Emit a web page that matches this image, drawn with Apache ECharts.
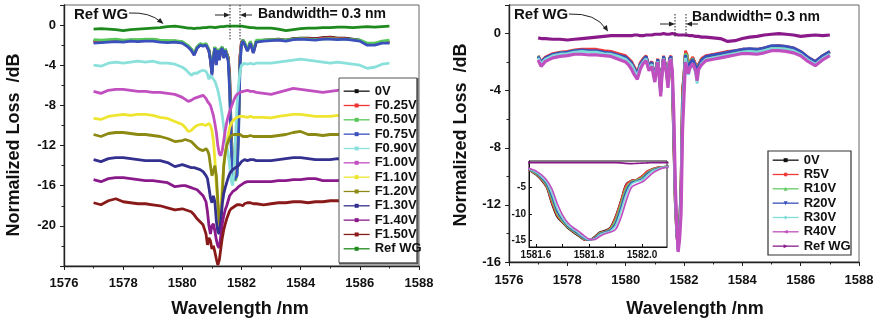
<!DOCTYPE html>
<html><head><meta charset="utf-8">
<script src="https://cdn.jsdelivr.net/npm/echarts@6/dist/echarts.min.js"></script>
<style>html,body{margin:0;padding:0;background:#fff}#c{width:878px;height:326px}</style>
</head><body><div id="c"></div>
<script>
// ---------------- DATA ----------------
// Left panel wavelength grid (nm)
const wlL = [1577,1577.25,1577.5,1577.75,1578,1578.25,1578.5,1578.75,1579,1579.25,1579.5,1579.75,1580,
 1580.1,1580.2,1580.3,1580.4,1580.5,1580.6,1580.7,1580.8,
 1580.85,1580.9,1580.95,1581,1581.05,1581.1,1581.15,1581.2,1581.25,1581.3,1581.35,1581.4,1581.45,1581.5,1581.55,1581.6,1581.65,1581.7,1581.75,1581.8,1581.85,1581.9,1581.95,1582,1582.05,1582.1,
 1582.2,1582.3,1582.4,1582.5,
 1582.75,1583,1583.25,1583.5,1583.75,1584,1584.25,1584.5,1584.75,1585,1585.25,1585.5,1585.75,1586,1586.25,1586.5,1586.75,1587];

const L_0V = [-1.6,-1.6,-1.55,-1.5,-1.6,-1.5,-1.5,-1.45,-1.45,-1.55,-1.6,-1.6,-1.7,
 -1.9,-2.1,-2.4,-2.9,-2.2,-1.9,-2.0,-1.9,
 -2.2,-2.5,-3.4,-4.7,-3.2,-2.2,-3.8,-2.4,-3.4,-2.4,-2.2,-3.2,-2.4,-2.5,-3.2,-5.0,-10.5,-13.8,-14.8,-15.0,-14.2,-9.5,-3.2,-1.7,-1.5,-1.8,
 -2.5,-1.7,-2.7,-1.6,
 -1.5,-1.45,-1.4,-1.5,-1.35,-1.3,-1.3,-1.35,-1.25,-1.2,-1.3,-1.3,-1.4,-1.5,-1.9,-1.9,-1.7,-1.7];
const L_F025 = [-1.7,-1.65,-1.6,-1.55,-1.65,-1.55,-1.55,-1.5,-1.5,-1.6,-1.65,-1.65,-1.75,
 -1.95,-2.15,-2.45,-2.95,-2.25,-1.95,-2.05,-1.95,
 -2.25,-2.55,-3.45,-4.8,-3.25,-2.25,-3.9,-2.45,-3.45,-2.45,-2.25,-3.25,-2.45,-2.55,-3.3,-5.5,-11.0,-14.0,-15.0,-15.1,-14.3,-9.8,-3.0,-1.6,-1.5,-1.8,
 -2.5,-1.7,-2.7,-1.6,
 -1.55,-1.5,-1.45,-1.55,-1.4,-1.35,-1.35,-1.4,-1.3,-1.25,-1.35,-1.35,-1.45,-1.55,-1.95,-1.95,-1.75,-1.75];
const L_F050 = [-1.45,-1.5,-1.45,-1.4,-1.5,-1.45,-1.45,-1.4,-1.4,-1.5,-1.55,-1.55,-1.65,
 -1.85,-2.05,-2.35,-2.8,-2.15,-1.85,-1.95,-1.85,
 -2.15,-2.45,-3.3,-4.6,-3.1,-2.15,-3.7,-2.35,-3.3,-2.35,-2.15,-3.1,-2.35,-2.45,-3.4,-6.0,-11.5,-14.3,-15.3,-15.5,-14.8,-10.5,-3.6,-1.8,-1.5,-1.7,
 -2.4,-1.6,-2.6,-1.5,
 -1.5,-1.45,-1.45,-1.5,-1.4,-1.35,-1.4,-1.45,-1.4,-1.35,-1.4,-1.4,-1.45,-1.5,-1.8,-1.8,-1.6,-1.5];
const L_F075 = [-1.8,-1.75,-1.7,-1.65,-1.7,-1.6,-1.65,-1.6,-1.6,-1.7,-1.75,-1.7,-1.8,
 -2.0,-2.2,-2.5,-3.0,-2.3,-2.0,-2.1,-2.0,
 -2.3,-2.6,-3.5,-5.0,-3.3,-2.3,-4.0,-2.5,-3.5,-2.5,-2.3,-3.3,-2.5,-2.6,-3.6,-6.5,-12.0,-14.6,-15.4,-15.5,-15.0,-11.0,-4.0,-1.9,-1.6,-1.9,
 -2.6,-1.8,-2.8,-1.7,
 -1.6,-1.55,-1.5,-1.6,-1.45,-1.4,-1.45,-1.5,-1.4,-1.4,-1.45,-1.4,-1.5,-1.6,-2.0,-2.0,-1.8,-1.8];
const L_F090 = [-4.0,-4.1,-3.8,-3.7,-3.8,-3.7,-3.6,-3.7,-3.6,-3.8,-3.8,-3.9,-4.2,
 -4.4,-4.7,-5.0,-4.8,-4.8,-4.6,-4.5,-4.6,
 -4.9,-5.4,-5.0,-5.2,-5.3,-5.6,-6.0,-6.5,-7.2,-8.0,-9.0,-10.2,-11.2,-12.0,-12.8,-14.0,-15.5,-16.0,-14.5,-11.0,-8.0,-6.0,-4.6,-4.0,-3.9,-3.8,
 -3.9,-3.8,-3.9,-3.8,
 -3.8,-3.8,-3.7,-3.6,-3.5,-3.4,-3.5,-3.6,-3.7,-3.8,-3.7,-3.8,-3.9,-4.0,-4.3,-4.2,-3.9,-3.8];
const L_F100 = [-6.6,-6.8,-6.5,-6.4,-6.4,-6.5,-6.6,-6.6,-6.7,-6.7,-6.8,-6.9,-7.2,
 -7.4,-7.6,-7.5,-7.3,-7.2,-7.1,-7.0,-7.3,
 -7.6,-7.7,-8.0,-8.5,-9.0,-9.8,-10.7,-12.0,-12.8,-13.0,-12.5,-11.5,-10.5,-9.7,-9.1,-8.6,-8.2,-7.8,-7.4,-7.1,-6.9,-6.8,-6.7,-6.6,-6.6,-6.5,
 -6.5,-6.6,-6.6,-6.7,
 -6.8,-6.9,-6.7,-6.5,-6.3,-6.4,-6.5,-6.6,-6.7,-6.6,-6.5,-6.4,-6.5,-6.6,-6.9,-6.8,-6.6,-6.5];
const L_F110 = [-9.3,-9.4,-9.1,-9.0,-8.9,-9.0,-8.9,-8.9,-9.0,-9.2,-9.3,-9.6,-9.9,
 -10.2,-10.6,-10.5,-10.2,-10.0,-9.9,-9.9,-10.0,
 -9.9,-9.8,-10.0,-10.5,-11.5,-13.4,-16.0,-18.0,-20.0,-18.5,-16.0,-14.0,-12.8,-12.0,-11.0,-10.2,-9.8,-9.6,-9.4,-9.3,-9.2,-9.2,-9.1,-9.1,-9.1,-9.2,
 -9.2,-9.1,-9.2,-9.2,
 -9.2,-9.25,-9.1,-9.0,-8.9,-8.9,-9.0,-9.1,-9.1,-9.1,-9.0,-9.0,-9.1,-9.2,-9.4,-9.3,-9.1,-9.0];
const L_F120 = [-10.9,-11.1,-10.8,-10.7,-10.7,-10.8,-10.9,-10.9,-11.0,-11.1,-11.3,-11.6,-11.5,
 -11.4,-11.5,-11.6,-11.9,-12.2,-12.4,-12.5,-12.3,
 -12.5,-12.9,-14.0,-15.0,-14.6,-14.0,-15.0,-17.5,-19.5,-20.5,-17.0,-14.0,-12.8,-12.0,-11.6,-11.2,-11.0,-10.9,-10.9,-10.9,-10.9,-10.9,-10.9,-11.0,-11.1,-11.0,
 -11.1,-11.0,-11.1,-11.1,
 -11.1,-11.1,-11.0,-10.9,-10.7,-10.6,-10.9,-10.9,-11.0,-10.9,-10.9,-10.9,-11.0,-11.1,-11.2,-11.1,-11.0,-10.9];
const L_F130 = [-13.4,-13.6,-13.3,-13.2,-13.2,-13.3,-13.4,-13.5,-13.5,-13.5,-13.7,-14.1,-13.9,
 -14.0,-14.1,-14.2,-14.2,-14.3,-14.4,-14.6,-15.0,
 -15.3,-16.2,-17.2,-17.7,-17.0,-17.6,-19.5,-20.6,-20.8,-19.5,-17.8,-16.8,-16.2,-15.7,-15.2,-14.8,-14.6,-14.4,-14.3,-14.2,-14.1,-14.0,-13.8,-13.6,-13.5,-13.4,
 -13.5,-13.4,-13.4,-13.5,
 -13.5,-13.5,-13.4,-13.3,-13.2,-13.2,-13.3,-13.4,-13.4,-13.4,-13.3,-13.4,-13.5,-13.6,-13.5,-13.4,-13.4,-13.3];
const L_F140 = [-15.4,-15.6,-15.3,-15.2,-15.2,-15.3,-15.4,-15.5,-15.5,-15.6,-15.7,-16.1,-16.0,
 -16.0,-16.1,-16.2,-16.3,-16.4,-16.7,-17.0,-17.6,
 -18.6,-20.0,-20.8,-20.0,-19.8,-20.5,-21.4,-22.0,-22.2,-21.0,-19.8,-19.0,-18.4,-18.0,-17.5,-17.0,-16.8,-16.6,-16.5,-16.4,-16.3,-16.1,-16.0,-15.9,-15.8,-15.7,
 -15.6,-15.6,-15.6,-15.6,
 -15.6,-15.6,-15.5,-15.5,-15.4,-15.4,-15.3,-15.3,-15.5,-15.5,-15.5,-15.4,-15.5,-15.6,-15.7,-15.6,-15.5,-15.5];
const L_F150 = [-17.7,-17.9,-17.5,-17.3,-17.6,-17.7,-17.8,-17.8,-17.9,-18.0,-18.2,-18.4,-18.3,
 -18.4,-18.5,-18.6,-18.9,-19.3,-19.6,-19.9,-20.8,
 -21.9,-21.2,-21.5,-22.3,-22.0,-22.6,-23.3,-23.9,-23.4,-22.3,-21.2,-20.4,-19.8,-19.3,-18.9,-18.5,-18.3,-18.2,-18.1,-18.0,-17.9,-17.9,-17.9,-18.0,-18.0,-17.8,
 -17.7,-17.7,-17.8,-17.8,
 -17.9,-17.8,-17.7,-17.7,-17.6,-17.6,-17.7,-17.6,-17.6,-17.5,-17.5,-17.6,-17.7,-17.7,-17.6,-17.5,-17.5,-17.5];
const L_REF = [-0.4,-0.35,-0.4,-0.45,-0.55,-0.45,-0.4,-0.35,-0.3,-0.25,-0.15,-0.1,-0.2,
 -0.25,-0.3,-0.3,-0.35,-0.3,-0.3,-0.25,-0.25,
 -0.25,-0.2,-0.25,-0.2,-0.2,-0.25,-0.2,-0.2,-0.15,-0.15,-0.1,-0.15,-0.1,-0.1,-0.05,-0.1,-0.05,-0.1,-0.05,-0.1,-0.05,-0.1,-0.1,-0.1,-0.15,-0.15,
 -0.2,-0.25,-0.25,-0.3,
 -0.3,-0.3,-0.4,-0.55,-0.45,-0.35,-0.3,-0.3,-0.25,-0.25,-0.2,-0.2,-0.25,-0.2,-0.15,-0.2,-0.15,-0.1];

// Right panel wavelength grid (nm)
const wlR = [1577,1577.1,1577.25,1577.5,1577.75,1578,1578.25,1578.5,1578.75,1579,1579.25,1579.5,1579.75,1580,
 1580.1,1580.2,1580.3,1580.4,1580.5,1580.6,1580.7,1580.8,
 1580.9,1580.95,1581,1581.05,1581.1,1581.15,1581.2,1581.25,1581.3,1581.35,1581.4,1581.45,1581.5,1581.55,1581.6,1581.65,1581.7,1581.75,1581.8,1581.85,1581.9,1581.95,1582,1582.05,1582.1,1582.15,
 1582.2,1582.3,1582.4,1582.45,1582.5,1582.6,
 1582.75,1583,1583.25,1583.5,1583.75,1584,1584.25,1584.5,1584.75,1585,1585.25,1585.5,1585.75,1586,1586.25,1586.5,1586.75,1587];

const R_0V = [-1.6,-2.0,-1.7,-1.45,-1.35,-1.3,-1.2,-1.15,-1.2,-1.2,-1.3,-1.3,-1.45,-1.6,
 -1.8,-2.0,-2.4,-2.8,-2.1,-1.8,-1.6,-2.3,
 -2.0,-2.6,-3.2,-2.4,-1.8,-2.8,-4.1,-2.5,-1.6,-1.5,-2.6,-3.6,-1.8,-1.6,-3.4,-7.6,-11.8,-14.0,-15.1,-13.4,-10.5,-4.0,-2.9,-1.3,-1.5,-2.4,
 -2.0,-1.7,-2.2,-3.0,-2.2,-1.8,
 -1.6,-1.5,-1.4,-1.3,-1.25,-1.15,-1.1,-1.15,-1.05,-0.9,-0.9,-0.95,-1.05,-1.3,-1.7,-2.0,-1.6,-1.3];
const R_5V = [-1.55,-1.95,-1.65,-1.4,-1.3,-1.25,-1.15,-1.1,-1.1,-1.1,-1.2,-1.25,-1.4,-1.55,
 -1.75,-1.95,-2.35,-2.75,-2.05,-1.75,-1.55,-2.25,
 -1.95,-2.55,-3.15,-2.35,-1.75,-2.75,-4.05,-2.45,-1.55,-1.45,-2.55,-3.55,-1.75,-1.55,-3.3,-7.4,-11.6,-13.9,-15.1,-13.5,-10.6,-4.1,-2.8,-1.2,-1.45,-2.35,
 -1.95,-1.65,-2.15,-2.95,-2.15,-1.75,
 -1.55,-1.45,-1.35,-1.25,-1.2,-1.1,-1.1,-1.1,-1.0,-0.9,-0.85,-0.9,-1.0,-1.25,-1.65,-1.95,-1.55,-1.25];
const R_10V = [-1.55,-2.05,-1.75,-1.5,-1.35,-1.3,-1.2,-1.2,-1.25,-1.3,-1.4,-1.45,-1.55,-1.7,
 -1.9,-2.1,-2.5,-2.9,-2.2,-1.85,-1.65,-2.35,
 -2.05,-2.65,-3.25,-2.45,-1.85,-2.85,-4.15,-2.55,-1.65,-1.55,-2.65,-3.65,-1.85,-1.65,-3.2,-7.0,-11.4,-13.8,-15.1,-13.6,-11.0,-4.6,-3.1,-1.4,-1.55,-2.45,
 -2.05,-1.75,-2.25,-3.05,-2.25,-1.85,
 -1.65,-1.55,-1.45,-1.35,-1.3,-1.2,-1.15,-1.2,-1.1,-0.95,-0.95,-1.0,-1.1,-1.35,-1.75,-2.05,-1.6,-1.3];
const R_20V = [-1.6,-2.0,-1.7,-1.45,-1.35,-1.3,-1.2,-1.15,-1.2,-1.2,-1.3,-1.35,-1.5,-1.65,
 -1.85,-2.05,-2.45,-2.85,-2.15,-1.85,-1.6,-2.3,
 -2.0,-2.6,-3.2,-2.4,-1.8,-2.8,-4.1,-2.5,-1.6,-1.5,-2.6,-3.6,-1.8,-1.6,-3.0,-6.6,-11.2,-13.7,-15.2,-13.8,-11.4,-5.0,-3.3,-1.5,-1.6,-2.5,
 -2.1,-1.8,-2.3,-3.1,-2.3,-1.85,
 -1.6,-1.5,-1.4,-1.3,-1.2,-1.1,-1.05,-1.1,-1.0,-0.85,-0.85,-0.9,-1.0,-1.25,-1.65,-1.95,-1.55,-1.25];
const R_30V = [-1.7,-2.1,-1.8,-1.55,-1.45,-1.4,-1.3,-1.25,-1.3,-1.3,-1.4,-1.45,-1.6,-1.8,
 -2.0,-2.2,-2.6,-3.0,-2.3,-2.0,-1.75,-2.45,
 -2.15,-2.75,-3.35,-2.55,-1.95,-2.95,-4.25,-2.65,-1.75,-1.65,-2.75,-3.75,-1.95,-1.75,-2.9,-6.2,-11.0,-13.6,-15.2,-14.0,-11.8,-5.6,-3.6,-1.7,-1.8,-2.9,
 -2.5,-2.1,-2.8,-3.5,-2.6,-2.1,
 -1.8,-1.7,-1.6,-1.5,-1.4,-1.3,-1.25,-1.3,-1.2,-1.05,-1.05,-1.1,-1.2,-1.45,-1.85,-2.15,-1.75,-1.45];
const R_40V = [-1.85,-2.3,-1.95,-1.7,-1.6,-1.55,-1.45,-1.45,-1.5,-1.5,-1.55,-1.6,-1.8,-2.0,
 -2.2,-2.5,-2.9,-3.2,-2.5,-2.1,-1.9,-2.6,
 -2.3,-2.9,-3.4,-2.7,-2.0,-3.0,-4.4,-2.8,-1.8,-1.7,-2.8,-3.8,-2.0,-1.8,-2.6,-5.5,-10.4,-13.4,-15.3,-14.4,-12.6,-6.8,-4.4,-2.0,-2.0,-2.8,
 -2.4,-2.1,-2.6,-3.3,-2.5,-2.2,
 -1.9,-1.8,-1.7,-1.6,-1.5,-1.4,-1.4,-1.45,-1.35,-1.2,-1.2,-1.25,-1.35,-1.55,-1.95,-2.25,-1.85,-1.55];
const R_REF = [-0.3,-0.35,-0.35,-0.4,-0.4,-0.45,-0.4,-0.35,-0.3,-0.25,-0.2,-0.15,-0.15,-0.15,
 -0.15,-0.15,-0.1,-0.1,-0.15,-0.15,-0.1,-0.1,
 -0.1,-0.1,-0.05,-0.1,-0.05,-0.1,-0.05,-0.05,0,-0.05,-0.05,0,-0.05,-0.05,0,-0.05,-0.05,-0.05,-0.1,-0.05,-0.1,-0.1,-0.1,-0.15,-0.1,-0.15,
 -0.15,-0.15,-0.2,-0.2,-0.2,-0.25,
 -0.25,-0.3,-0.35,-0.55,-0.5,-0.35,-0.25,-0.2,-0.1,-0.05,0,-0.05,-0.1,-0.2,-0.15,-0.1,-0.15,-0.1];

// Inset wavelength grid (nm)
const wlIn = [1581.57,1581.58,1581.6,1581.62,1581.64,1581.66,1581.68,1581.7,1581.72,1581.74,1581.76,1581.78,1581.8,1581.82,1581.84,1581.86,1581.88,1581.9,1581.92,1581.94,1581.96,1581.98,1582,1582.02,1582.04,1582.06,1582.08,1582.1];
const IN_0V  = [-1.6,-1.9,-2.6,-3.6,-5.0,-8.1,-10.6,-11.7,-12.7,-13.5,-14.2,-14.9,-15.0,-14.4,-13.5,-13.2,-12.6,-10.5,-7.5,-4.4,-3.7,-3.5,-2.9,-2.0,-1.5,-1.2,-1.1,-1.0];
const IN_5V  = [-1.6,-1.9,-2.5,-3.5,-4.9,-7.9,-10.4,-11.6,-12.6,-13.4,-14.1,-14.9,-15.0,-14.5,-13.6,-13.3,-12.7,-10.6,-7.6,-4.5,-3.7,-3.5,-2.8,-1.9,-1.5,-1.2,-1.1,-1.0];
const IN_10V = [-1.5,-1.8,-2.4,-3.3,-4.6,-7.3,-10.0,-11.4,-12.5,-13.3,-14.0,-14.8,-15.0,-14.6,-13.7,-13.4,-12.9,-11.2,-8.2,-5.1,-3.9,-3.6,-3.1,-2.2,-1.6,-1.3,-1.1,-1.0];
const IN_20V = [-1.5,-1.7,-2.2,-3.1,-4.3,-6.7,-9.5,-11.1,-12.3,-13.1,-13.8,-14.6,-15.0,-14.7,-13.9,-13.5,-13.1,-11.8,-8.9,-5.7,-4.1,-3.8,-3.4,-2.4,-1.8,-1.4,-1.2,-1.0];
const IN_30V = [-1.4,-1.6,-2.1,-2.9,-4.0,-6.1,-9.0,-10.8,-12.1,-12.9,-13.6,-14.4,-14.9,-14.8,-14.0,-13.6,-13.3,-12.3,-9.6,-6.4,-4.4,-3.9,-3.6,-2.7,-1.9,-1.5,-1.2,-1.1];
const IN_40V = [-1.3,-1.5,-1.9,-2.6,-3.6,-5.3,-8.0,-10.2,-11.7,-12.6,-13.3,-14.1,-14.8,-14.9,-14.3,-13.8,-13.5,-13.0,-10.8,-7.6,-5.0,-4.4,-4.0,-3.2,-2.3,-1.7,-1.3,-1.2];
const IN_REF = [-0.3,-0.3,-0.3,-0.3,-0.3,-0.3,-0.3,-0.3,-0.3,-0.3,-0.3,-0.3,-0.3,-0.3,-0.3,-0.3,-0.3,-0.3,-0.35,-0.45,-0.5,-0.45,-0.4,-0.35,-0.3,-0.3,-0.3,-0.3];

const leftNames  = ['0V','F0.25V','F0.50V','F0.75V','F0.90V','F1.00V','F1.10V','F1.20V','F1.30V','F1.40V','F1.50V','Ref WG'];
const rightNames = ['0V','R5V','R10V','R20V','R30V','R40V','Ref WG'];
const insetXLabels = [1581.6, 1581.8, 1582.0];
const insetYLabels = [-15, -10, -5];

// ---------------- STYLE / BUILD ----------------
const FONT = '"Liberation Sans", Arial, sans-serif';
const leftVals = [L_0V,L_F025,L_F050,L_F075,L_F090,L_F100,L_F110,L_F120,L_F130,L_F140,L_F150,L_REF];
const rightVals = [R_0V,R_5V,R_10V,R_20V,R_30V,R_40V,R_REF];
const insetVals = [IN_0V,IN_5V,IN_10V,IN_20V,IN_30V,IN_40V,IN_REF];
const leftColors = ['#111111','#ee3333','#58c858','#3a50bb','#8ae0da','#c24fc0','#eee530','#8c8a12','#33308f','#8a1a8a','#8a1a1a','#1e8a1e'];
const rightColors = ['#111111','#f03a3a','#66cc66','#3a50bb','#80dcd8','#c050c0','#8a1a8a'];
const rightSymbols = ['rect','circle','triangle','triangle','diamond','triangle','triangle'];
const rightRot = [0,0,0,180,0,90,-90];

const problems = [];
function zip(wl, vals, name) {
  if (wl.length !== vals.length) problems.push(name + ':' + vals.length + '/' + wl.length);
  const n = Math.min(wl.length, vals.length);
  const out = [];
  for (let i = 0; i < n; i++) out.push([wl[i], vals[i]]);
  return out;
}
const rightSeriesNames = rightNames.map(n => n + ' ');

const series = [];
leftNames.forEach((n, i) => series.push({
  name: n, type: 'line', xAxisIndex: 0, yAxisIndex: 0, data: zip(wlL, leftVals[i], n),
  showSymbol: false, symbol: 'rect', symbolSize: 4, silent: true,
  lineStyle: {width: 2.8, color: leftColors[i]}, itemStyle: {color: leftColors[i]}
}));
rightNames.forEach((n, i) => series.push({
  name: rightSeriesNames[i], type: 'line', xAxisIndex: 1, yAxisIndex: 1, data: zip(wlR, rightVals[i], 'R' + n),
  showSymbol: false, symbol: rightSymbols[i], symbolRotate: rightRot[i], symbolSize: 4, silent: true,
  lineStyle: {width: i >= 5 ? 3.2 : 2.8, color: rightColors[i]}, itemStyle: {color: rightColors[i]}
}));
rightNames.forEach((n, i) => series.push({
  name: 'inset-' + n, type: 'line', xAxisIndex: 2, yAxisIndex: 2, data: zip(wlIn, insetVals[i], 'I' + n),
  showSymbol: false, silent: true, smooth: 0.3,
  lineStyle: {width: 1.7, color: rightColors[i]}, itemStyle: {color: rightColors[i]}
}));

const tickLbl = {fontFamily: FONT, fontWeight: 'bold', fontSize: 13, color: '#111'};
function mainX(grid, margin) {
  return {gridIndex: grid, type: 'value', min: 1576, max: 1588, interval: 2,
    axisLine: {show: true, onZero: false, lineStyle: {color: '#222', width: 1.4}},
    axisTick: {show: true, length: 4, lineStyle: {color: '#222', width: 1}},
    minorTick: {show: true, splitNumber: 2, length: 2.5, lineStyle: {color: '#222', width: 1}},
    axisLabel: Object.assign({margin: margin, formatter: v => String(Math.round(v))}, tickLbl),
    splitLine: {show: false}, minorSplitLine: {show: false}};
}
function mainY(grid, min, showMin) {
  return {gridIndex: grid, type: 'value', min: min, max: 2, interval: 4,
    axisLine: {show: true, onZero: false, lineStyle: {color: '#222', width: 1.4}},
    axisTick: {show: true, length: 4, lineStyle: {color: '#222', width: 1}},
    minorTick: {show: true, splitNumber: 2, length: 2.5, lineStyle: {color: '#222', width: 1}},
    axisLabel: Object.assign({margin: 8, showMinLabel: showMin, showMaxLabel: false, formatter: v => String(v)}, tickLbl),
    splitLine: {show: false}, minorSplitLine: {show: false}};
}
const insetLbl = {fontFamily: FONT, fontWeight: 'bold', fontSize: 10, color: '#111'};

const legendCommon = {
  orient: 'vertical', itemWidth: 26, itemHeight: 5, itemGap: 0, padding: 0,
  textStyle: {fontFamily: FONT, fontWeight: 'bold', fontSize: 13, color: '#111', lineHeight: 14.33},
  lineStyle: {width: 1.3}, selectedMode: false, z: 20, backgroundColor: 'transparent'
};

function ctxt(x, y, s, size, rot) {
  return {type: 'text', x: x, y: y, z: 30, silent: true, rotation: rot || 0,
    style: {text: s, font: 'bold ' + size + 'px ' + FONT, fill: '#111',
      align: 'center', verticalAlign: 'middle', textAlign: 'center', textVerticalAlign: 'middle'}};
}
function txt(x, y, s, size) {
  return {type: 'text', x: x, y: y, z: 30, silent: true,
    style: {text: s, font: 'bold ' + size + 'px ' + FONT, fill: '#111',
      align: 'left', verticalAlign: 'middle', textAlign: 'left', textVerticalAlign: 'middle'}};
}
function vdot(x, y1, y2) {
  return {type: 'line', z: 30, silent: true, shape: {x1: x, y1: y1, x2: x, y2: y2},
    style: {stroke: '#222', lineWidth: 1, lineDash: [1.5, 1.5]}};
}
function hline(x1, x2, y) {
  return {type: 'line', z: 30, silent: true, shape: {x1: x1, y1: y, x2: x2, y2: y}, style: {stroke: '#222', lineWidth: 1}};
}
function head(pts) {
  return {type: 'polygon', z: 30, silent: true, shape: {points: pts}, style: {fill: '#222'}};
}

const graphic = [
  {type: 'rect', z: 10, silent: true, shape: {x: 339, y: 78, width: 78, height: 185}, style: {fill: '#fff', stroke: '#555', lineWidth: 1}},
  {type: 'polyline', z: 11, silent: true, shape: {points: [[417.5, 78], [417.5, 263.5], [339, 263.5]]}, style: {stroke: '#555', lineWidth: 2, fill: null}},
  {type: 'rect', z: 10, silent: true, shape: {x: 768, y: 151, width: 83, height: 104}, style: {fill: '#fff', stroke: '#333', lineWidth: 1.2}},
  ctxt(240, 309, 'Wavelength /nm', 18),
  ctxt(695, 309, 'Wavelength /nm', 18),
  ctxt(14, 145, 'Normalized Loss  /dB', 18, Math.PI / 2),
  ctxt(461, 135, 'Normalized Loss  /dB', 18, Math.PI / 2),
  txt(74, 15, 'Ref WG', 15),
  {type: 'bezierCurve', z: 30, silent: true, shape: {x1: 129, y1: 13, x2: 161, y2: 22, cpx1: 150, cpy1: 12}, style: {stroke: '#222', lineWidth: 1, fill: null}},
  head([[163.5, 24], [156.9, 21.8], [160.3, 18.1]]),
  vdot(230, 5, 40), vdot(240, 5, 40),
  hline(215, 225, 15), head([[230, 15], [224, 12.5], [224, 17.5]]),
  hline(245, 252, 15), head([[240, 15], [246, 12.5], [246, 17.5]]),
  txt(258, 14, 'Bandwidth= 0.3 nm', 14),
  txt(514, 15, 'Ref WG', 15),
  {type: 'bezierCurve', z: 30, silent: true, shape: {x1: 569, y1: 14, x2: 606, y2: 29, cpx1: 596, cpy1: 13}, style: {stroke: '#222', lineWidth: 1, fill: null}},
  head([[608, 31.5], [602.7, 27.9], [606.9, 25.1]]),
  vdot(675, 14, 37), vdot(686, 14, 37),
  hline(660, 670, 24), head([[675, 24], [669, 21.5], [669, 26.5]]),
  hline(691, 698, 24), head([[686, 24], [692, 21.5], [692, 26.5]]),
  txt(692, 17, 'Bandwidth= 0.3 nm', 14)
];
if (problems.length) graphic.push({type: 'text', x: 100, y: 150, z: 99, style: {text: 'LEN: ' + problems.join(' '), fill: 'red', font: '12px sans-serif'}});

const option = {
  animation: false,
  backgroundColor: '#fff',
  grid: [
    {left: 64, top: 5, width: 355, height: 261, show: true, borderColor: '#666', borderWidth: 1, backgroundColor: 'transparent'},
    {left: 509, top: 5, width: 350, height: 257, show: true, borderColor: '#666', borderWidth: 1, backgroundColor: 'transparent'},
    {left: 529, top: 161, width: 138, height: 86, show: true, borderColor: '#111', borderWidth: 1, backgroundColor: '#fff'}
  ],
  xAxis: [
    mainX(0, 11), mainX(1, 12),
    {gridIndex: 2, type: 'value', min: 1581.574, max: 1582.094,
      axisLine: {show: true, onZero: false, lineStyle: {color: '#111', width: 1}},
      axisTick: {show: true, inside: true, length: 3, customValues: [1581.6, 1581.7, 1581.8, 1581.9, 1582.0], lineStyle: {color: '#111'}},
      axisLabel: Object.assign({margin: 3, customValues: insetXLabels, formatter: v => Number(v).toFixed(1)}, insetLbl),
      splitLine: {show: false}}
  ],
  yAxis: [
    mainY(0, -24, false), mainY(1, -16, true),
    {gridIndex: 2, type: 'value', min: -16.3, max: 0,
      axisLine: {show: true, onZero: false, lineStyle: {color: '#111', width: 1}},
      axisTick: {show: true, inside: true, length: 3, customValues: insetYLabels, lineStyle: {color: '#111'}},
      axisLabel: Object.assign({margin: 3, customValues: insetYLabels}, insetLbl),
      splitLine: {show: false}}
  ],
  legend: [
    Object.assign({data: leftNames, left: 343, top: 84}, legendCommon),
    Object.assign({data: rightSeriesNames, left: 772, top: 153}, legendCommon)
  ],
  series: series,
  graphic: graphic
};
const chart = echarts.init(document.getElementById('c'), null, {renderer: 'canvas'});
chart.setOption(option);
</script></body></html>
